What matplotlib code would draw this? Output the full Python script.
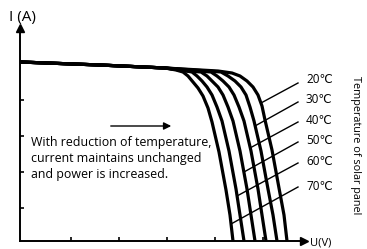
import matplotlib
matplotlib.use("Agg")
import matplotlib.pyplot as plt

plt.rcParams["font.family"] = ["Open Sans", "DejaVu Sans"]

# Shared flat part of every I-V curve (short-circuit current region)
flat_v = [0, 80, 145]
flat_i = [179, 176, 173]

# Knee and drop of each curve
temps = ["20\u2103", "30\u2103", "40\u2103", "50\u2103", "60\u2103", "70\u2103"]
curve_v = {
    "20": [198, 212, 220, 227, 233, 238, 242, 245, 252, 259, 264, 267],
    "30": [188, 201, 208, 215, 221, 226, 230, 234, 241, 248, 253, 257],
    "40": [178, 191, 197, 203, 209, 214, 219, 224, 231, 238, 242, 246],
    "50": [168, 181, 187, 192, 198, 203, 208, 213, 220, 227, 231, 235],
    "60": [160, 172, 177, 182, 187, 192, 197, 202, 209, 216, 220, 224],
    "70": [156, 163, 168, 173, 178, 183, 188, 192, 199, 206, 210, 213],
}
curve_i = {
    "20": [170, 168, 165, 160, 154, 146, 135, 121, 91, 53, 26, 0],
    "30": [170, 169, 165, 160, 154, 146, 134, 120, 90, 52, 26, 0],
    "40": [170, 169, 165, 160, 154, 146, 134, 120, 90, 52, 26, 0],
    "50": [170, 169, 165, 160, 154, 146, 134, 120, 90, 52, 26, 0],
    "60": [171, 169, 165, 160, 154, 146, 134, 120, 90, 52, 26, 0],
    "70": [171, 169, 165, 159, 153, 145, 133, 119, 89, 51, 26, 0],
}

# Leader lines: label end -> point on its curve
leader_start_i = [158, 139, 119, 99, 78, 54]
leader_end_v = [241, 235, 230, 224, 217, 211]
leader_end_i = [138, 115, 93, 69, 45, 17]
label_i = [162, 142, 121, 101, 80, 55]

xticks = [51, 99, 147, 195, 243]
yticks = [33, 69, 105, 141]

fig = plt.figure(figsize=(3.67, 2.49), dpi=100)
ax = fig.add_axes([20 / 367, 8 / 249, 284 / 367, 213 / 249])
ax.set_xlim(0, 284)
ax.set_ylim(0, 213)

for key in curve_v:
    ax.plot(flat_v + curve_v[key], flat_i + curve_i[key], color="black",
            lw=2.3, solid_joinstyle="round", solid_capstyle="butt")

for k, t in enumerate(temps):
    ax.plot([278, leader_end_v[k]], [leader_start_i[k], leader_end_i[k]],
            color="black", lw=1.0, clip_on=False)
    ax.text(286, label_i[k], t, fontsize=8.5, va="center", ha="left")

ax.text(336, 96, "Temperature of solar panel", rotation=-90, fontsize=7.8,
        va="center", ha="center")

# annotation arrow and note
ax.annotate("", xy=(154, 115), xytext=(88, 115),
            arrowprops=dict(arrowstyle="-|>", color="black", lw=1.0,
                            mutation_scale=11))
ax.text(11, 83, "With reduction of temperature,\ncurrent maintains unchanged\nand power is increased.",
        fontsize=8.9, va="center", ha="left", linespacing=1.3)

# axes styling
for side in ["top", "right"]:
    ax.spines[side].set_visible(False)
for side in ["left", "bottom"]:
    ax.spines[side].set_linewidth(1.4)
ax.set_xticks(xticks)
ax.set_yticks(yticks)
ax.tick_params(direction="in", length=3, width=1.2, labelbottom=False,
               labelleft=False)
ax.plot(1, 0, ">", color="black", ms=6, transform=ax.transAxes, clip_on=False)
ax.plot(0, 1, "^", color="black", ms=6, transform=ax.transAxes, clip_on=False)

ax.text(-11, 224, "I (A)", fontsize=11, va="center", ha="left")
ax.text(290, -2, "U(V)", fontsize=8, va="center", ha="left")

fig.savefig("out.png", dpi=100)
